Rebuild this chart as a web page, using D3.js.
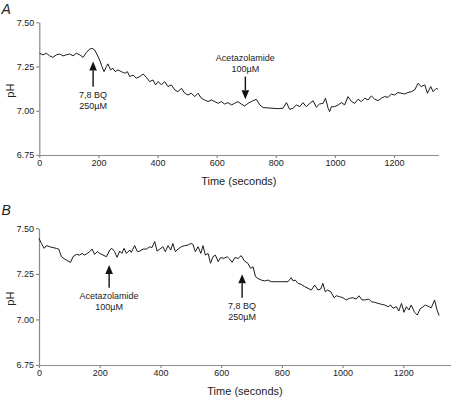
<!DOCTYPE html>
<html>
<head>
<meta charset="utf-8">
<script src="https://cdn.jsdelivr.net/npm/d3@7"></script>
<style>
  html, body { margin: 0; padding: 0; background: #fff; }
  svg { display: block; font-family: "Liberation Sans", Arial, sans-serif; }
</style>
</head>
<body>
<svg id="chart" width="451" height="401"></svg>
<script>
// ---------- Data ----------
const yTicks = [6.75, 7.00, 7.25, 7.50];
const xTicks = [0, 200, 400, 600, 800, 1000, 1200];

const timeA = [1,12,24,35,46,58,69,80,91,103,114,125,137,148,159,170,178,187,196,204,212,219,227,232,241,249,257,266,278,289,298,306,317,328,340,351,362,373,385,393,402,413,424,435,447,458,469,481,492,503,514,526,537,548,559,571,582,593,605,616,627,638,650,661,672,683,695,706,717,734,746,757,808,824,836,847,858,870,881,892,903,915,926,937,948,960,968,977,982,988,999,1011,1022,1033,1044,1056,1067,1078,1089,1101,1112,1123,1135,1146,1157,1168,1180,1191,1202,1213,1225,1236,1247,1259,1270,1281,1292,1304,1313,1324,1332,1343,1349];
const phA = [7.325,7.316,7.325,7.310,7.302,7.316,7.321,7.310,7.316,7.321,7.310,7.325,7.316,7.302,7.329,7.348,7.353,7.344,7.316,7.287,7.250,7.221,7.250,7.265,7.231,7.240,7.221,7.231,7.221,7.212,7.221,7.193,7.202,7.184,7.193,7.208,7.189,7.165,7.174,7.146,7.165,7.146,7.165,7.137,7.146,7.118,7.108,7.127,7.099,7.089,7.099,7.080,7.099,7.071,7.061,7.052,7.061,7.052,7.042,7.052,7.038,7.046,7.033,7.042,7.052,7.038,7.027,7.042,7.052,7.065,7.033,7.018,7.012,7.014,7.046,7.008,7.014,7.033,7.023,7.046,7.023,7.042,7.057,7.020,7.038,7.042,7.071,7.014,6.995,7.023,7.023,7.033,7.046,7.033,7.080,7.052,7.042,7.065,7.052,7.071,7.061,7.084,7.065,7.057,7.071,7.080,7.076,7.095,7.089,7.103,7.099,7.095,7.103,7.108,7.118,7.155,7.137,7.146,7.099,7.137,7.108,7.127,7.121];

const timeB = [0,8,17,24,35,46,57,65,74,85,96,104,112,123,134,142,150,159,167,175,183,192,200,211,222,233,240,249,257,266,273,280,288,299,304,315,324,332,343,354,365,372,381,389,398,408,416,425,434,441,449,458,469,480,491,499,507,515,524,533,540,548,557,565,573,581,590,598,609,620,628,636,645,656,666,677,688,697,705,713,721,732,743,754,765,776,798,820,831,837,844,853,864,875,886,897,908,919,928,935,943,950,961,972,979,990,1001,1012,1023,1034,1045,1054,1064,1075,1086,1095,1106,1117,1128,1139,1150,1158,1166,1177,1185,1194,1202,1210,1218,1226,1237,1246,1255,1265,1273,1284,1292,1303,1311,1318];
const phB = [7.445,7.417,7.390,7.405,7.399,7.394,7.390,7.386,7.344,7.331,7.320,7.313,7.344,7.357,7.353,7.362,7.353,7.362,7.372,7.386,7.357,7.372,7.362,7.353,7.344,7.381,7.390,7.372,7.341,7.375,7.362,7.390,7.362,7.381,7.368,7.405,7.372,7.375,7.386,7.386,7.399,7.394,7.427,7.375,7.386,7.399,7.372,7.405,7.381,7.417,7.372,7.386,7.399,7.405,7.408,7.417,7.412,7.372,7.399,7.362,7.405,7.353,7.362,7.308,7.344,7.353,7.317,7.339,7.335,7.344,7.331,7.313,7.339,7.335,7.350,7.320,7.308,7.280,7.289,7.235,7.225,7.216,7.211,7.216,7.207,7.207,7.207,7.207,7.229,7.211,7.216,7.198,7.192,7.180,7.171,7.161,7.189,7.161,7.167,7.198,7.152,7.161,7.152,7.119,7.130,7.125,7.119,7.107,7.116,7.119,7.112,7.130,7.107,7.107,7.112,7.097,7.094,7.088,7.083,7.079,7.070,7.079,7.061,7.070,7.046,7.088,7.039,7.070,7.052,7.079,7.039,7.024,7.057,7.070,7.079,7.070,7.064,7.107,7.052,7.021];

// annotations: time, arrow tip pH, arrow tail pH, label lines
const annTimeA = [182, 697];
const annTipA  = [7.278, 7.065];
const annTailA = [7.136, 7.193];
const annLabelA = [["7,8 BQ", "250\u00B5M"], ["Acetazolamide", "100\u00B5M"]];

const annTimeB = [231, 669];
const annTipB  = [7.299, 7.248];
const annTailB = [7.174, 7.119];
const annLabelB = [["Acetazolamide", "100\u00B5M"], ["7,8 BQ", "250\u00B5M"]];

// ---------- Drawing ----------
const svg = d3.select("#chart");
const axisColor = "#8a8a8a";
const textColor = "#222";

function panel(cfg) {
  const x = d3.scaleLinear().domain([0, cfg.xMax]).range([cfg.x0, cfg.x1]);
  const y = d3.scaleLinear().domain([6.75, 7.50]).range([cfg.yBottom, cfg.yTop]);
  const g = svg.append("g");

  const xAxis = g.append("g")
    .attr("transform", `translate(0,${cfg.yBottom})`)
    .call(d3.axisBottom(x).tickValues(xTicks).tickSize(3).tickSizeOuter(0).tickPadding(2).tickFormat(d3.format("d")));
  const yAxis = g.append("g")
    .attr("transform", `translate(${cfg.x0},0)`)
    .call(d3.axisLeft(y).tickValues(yTicks).tickSize(3).tickSizeOuter(0).tickPadding(2).tickFormat(d3.format(".2f")));
  [xAxis, yAxis].forEach(a => {
    a.select(".domain").attr("stroke", axisColor).attr("stroke-width", 1.2);
    a.selectAll(".tick line").attr("stroke", axisColor).attr("stroke-width", 1.2);
    a.selectAll(".tick text").attr("fill", textColor).style("font-size", "9px").style("font-family", "Liberation Sans, Arial, sans-serif");
  });

  // line
  const pts = cfg.t.map((d, i) => [d, cfg.ph[i]]);
  g.append("path")
    .datum(pts)
    .attr("fill", "none")
    .attr("stroke", "#1a1a1a")
    .attr("stroke-width", 1)
    .attr("stroke-linejoin", "round")
    .attr("d", d3.line().x(d => x(d[0])).y(d => y(d[1])));

  // annotations
  cfg.annT.forEach((t, i) => {
    const ax = x(t);
    const tipY = y(cfg.annTip[i]);
    const tailY = y(cfg.annTail[i]);
    const up = tipY < tailY;
    const headLen = 9, headW = 3.8;
    const baseY = up ? tipY + headLen : tipY - headLen;
    g.append("line")
      .attr("x1", ax).attr("x2", ax)
      .attr("y1", tailY).attr("y2", baseY)
      .attr("stroke", "#111").attr("stroke-width", 1.4);
    g.append("path")
      .attr("d", `M${ax},${tipY}L${ax - headW},${baseY}L${ax + headW},${baseY}Z`)
      .attr("fill", "#111");
    const lines = cfg.annLabel[i];
    lines.forEach((txt, j) => {
      const ty = up ? tailY + 11 + j * 11 : tailY - 5 - (lines.length - 1 - j) * 11;
      g.append("text")
        .attr("x", ax).attr("y", ty)
        .attr("text-anchor", "middle")
        .attr("fill", textColor)
        .style("font-size", "9px")
        .text(txt);
    });
  });

  // axis titles
  g.append("text")
    .attr("x", (cfg.x0 + Math.min(cfg.x1, 451)) / 2)
    .attr("y", cfg.yBottom + 30)
    .attr("text-anchor", "middle")
    .attr("fill", textColor)
    .style("font-size", "11px")
    .text("Time (seconds)");
  g.append("text")
    .attr("transform", `translate(14,${(cfg.yTop + cfg.yBottom) / 2 + 2}) rotate(-90)`)
    .attr("text-anchor", "middle")
    .attr("fill", textColor)
    .style("font-size", "11px")
    .text("pH");
  g.append("text")
    .attr("x", 1.5).attr("y", cfg.letterY)
    .attr("fill", textColor)
    .style("font-size", "14px")
    .style("font-style", "italic")
    .text(cfg.letter);
}

panel({ letter: "A", letterY: 14, xMax: 1350, x0: 39.3, x1: 438.4, yTop: 22.3, yBottom: 155,
        t: timeA, ph: phA, annT: annTimeA, annTip: annTipA, annTail: annTailA, annLabel: annLabelA });
panel({ letter: "B", letterY: 215, xMax: 1360, x0: 39, x1: 451.9, yTop: 228.3, yBottom: 365,
        t: timeB, ph: phB, annT: annTimeB, annTip: annTipB, annTail: annTailB, annLabel: annLabelB });
</script>
</body>
</html>
